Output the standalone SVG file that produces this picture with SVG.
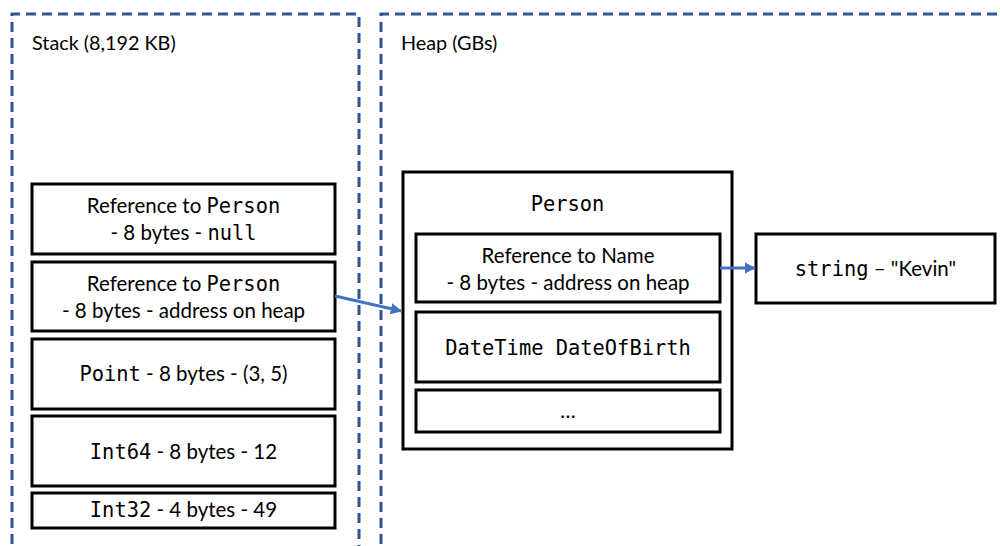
<svg xmlns="http://www.w3.org/2000/svg" width="1000" height="546" viewBox="0 0 1000 546">
<style>
.region{fill:none;stroke:#2F5597;stroke-width:3;stroke-dasharray:10,6}
.box{fill:#fff;stroke:#000;stroke-width:3}
.t{font-family:Lato,"Open Sans","Liberation Sans",sans-serif;font-size:20.5px;fill:#000;text-anchor:middle}
.title{font-family:Lato,"Open Sans","Liberation Sans",sans-serif;font-size:19.8px;fill:#000}
.m{font-family:"DejaVu Sans Mono","Liberation Mono",monospace;font-size:20.4px}
.conn{stroke:#4472C4;stroke-width:3;fill:none}
</style>
<defs>
<marker id="ah" viewBox="0 0 10 10" refX="9" refY="5" markerWidth="3.8" markerHeight="3.8" orient="auto" markerUnits="strokeWidth">
<path d="M0,0 L10,5 L0,10 z" fill="#4472C4"/>
</marker>
</defs>
<g id="stack">
<path class="region" d="M12,560 L12,14 L359,14 L359,560"/>
<text class="title" x="32" y="50">Stack (8,192 KB)</text>
</g>
<g id="heap">
<path class="region" d="M381,560 L381,14 L1010,14"/>
<text class="title" x="401" y="50">Heap (GBs)</text>
</g>
<g id="stack-ref-null">
<rect class="box" x="32" y="184" width="303" height="70"/>
<text class="t" x="183.5" y="213">Reference to <tspan class="m">Person</tspan></text>
<text class="t" x="183.5" y="240">- 8 bytes - <tspan class="m">null</tspan></text>
</g>
<g id="stack-ref-addr">
<rect class="box" x="32" y="262" width="303" height="69"/>
<text class="t" x="183.5" y="291">Reference to <tspan class="m">Person</tspan></text>
<text class="t" x="183.5" y="318">- 8 bytes - address on heap</text>
</g>
<g id="stack-point">
<rect class="box" x="32" y="339" width="303" height="70"/>
<text class="t" x="183.5" y="381"><tspan class="m">Point</tspan> - 8 bytes - (3, 5)</text>
</g>
<g id="stack-int64">
<rect class="box" x="32" y="416" width="303" height="70"/>
<text class="t" x="183.5" y="459"><tspan class="m">Int64</tspan> - 8 bytes - 12</text>
</g>
<g id="stack-int32">
<rect class="box" x="32" y="493" width="303" height="35"/>
<text class="t" x="183.5" y="517"><tspan class="m">Int32</tspan> - 4 bytes - 49</text>
</g>
<g id="person">
<rect class="box" x="403" y="172" width="329" height="277"/>
<text class="t m" x="567.5" y="211">Person</text>
</g>
<g id="person-name">
<rect class="box" x="416" y="234" width="304" height="68"/>
<text class="t" x="568" y="263">Reference to Name</text>
<text class="t" x="568" y="290">- 8 bytes - address on heap</text>
</g>
<g id="person-dob">
<rect class="box" x="416" y="312" width="304" height="70"/>
<text class="t m" x="568" y="355">DateTime DateOfBirth</text>
</g>
<g id="person-more">
<rect class="box" x="416" y="390" width="304" height="42"/>
<text class="t" x="568" y="418">…</text>
</g>
<g id="string-kevin">
<rect class="box" x="756" y="234" width="239" height="69"/>
<text class="t" x="875.5" y="276"><tspan class="m">string</tspan> – "Kevin"</text>
</g>
<g id="connectors">
<line class="conn" x1="335" y1="296" x2="401" y2="311" marker-end="url(#ah)"/>
<line class="conn" x1="720" y1="268" x2="755" y2="268" marker-end="url(#ah)"/>
</g>
</svg>
